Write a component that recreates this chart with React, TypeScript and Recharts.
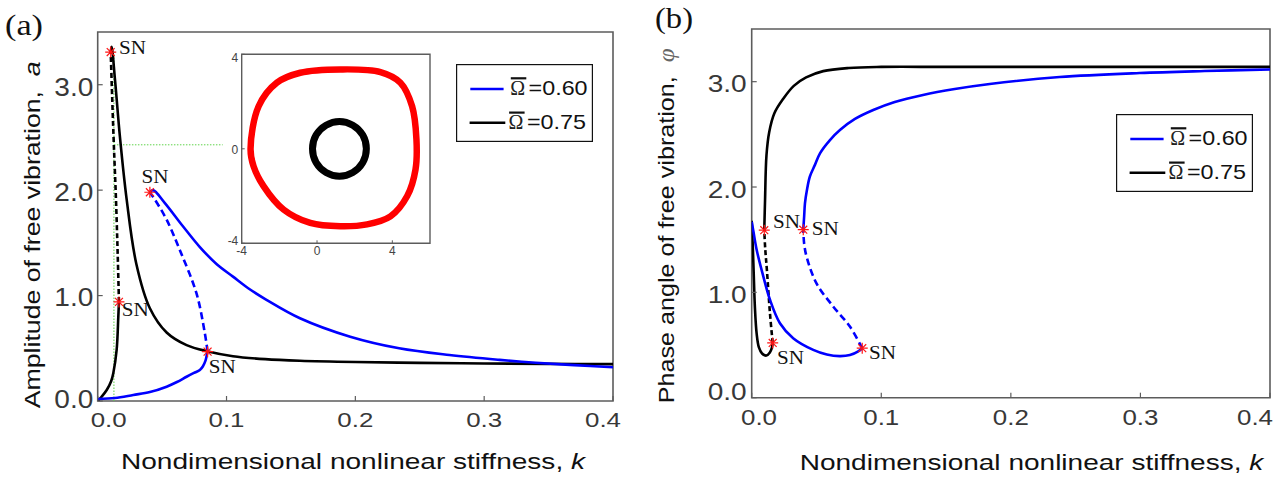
import React from 'react';
import { ComposedChart, Line, Scatter, XAxis, YAxis, ReferenceArea, ReferenceLine, Legend } from 'recharts';

type Pt = [number, number];

// ---------- shared ticks / labels ----------
const kTicks = [0, 0.1, 0.2, 0.3, 0.4];
const valueTicks = [0, 1, 2, 3];
const insetTicks = [-4, 0, 4];
const omegaLabels = ['0.60', '0.75'];

// ---------- panel (a): amplitude a vs k ----------
const aBlackLow: Pt[] = [[0, 0], [0.003, 0.04], [0.007, 0.104], [0.0105, 0.19], [0.0121, 0.263], [0.0147, 0.484], [0.016, 0.8], [0.0165, 0.94]];
const aBlackMid: Pt[] = [[0.0165, 0.94], [0.0155, 1.4], [0.0142, 1.91], [0.0125, 2.44], [0.0112, 2.89], [0.0101, 3.31]];
const aBlackUp: Pt[] = [[0.0101, 3.31], [0.0108, 3.36], [0.0134, 3.05], [0.0173, 2.5], [0.0225, 1.91], [0.03, 1.3], [0.0405, 0.88], [0.0535, 0.65], [0.069, 0.53], [0.0857, 0.47], [0.105, 0.425], [0.13, 0.397], [0.157, 0.382], [0.2, 0.37], [0.25, 0.362], [0.3, 0.356], [0.35, 0.352], [0.4, 0.35]];
const aBlueLow: Pt[] = [[0, 0.019], [0.0134, 0.028], [0.0276, 0.057], [0.0405, 0.085], [0.0535, 0.136], [0.0615, 0.18], [0.069, 0.23], [0.0747, 0.266], [0.0793, 0.294], [0.0816, 0.327], [0.0836, 0.38], [0.0847, 0.436], [0.0853, 0.468]];
const aBlueMid: Pt[] = [[0.0853, 0.468], [0.0832, 0.64], [0.0767, 1.02], [0.0638, 1.43], [0.0535, 1.72], [0.0444, 1.91], [0.0405, 1.98]];
const aBlueUp: Pt[] = [[0.0405, 1.98], [0.043, 2.0], [0.052, 1.88], [0.066, 1.66], [0.0793, 1.46], [0.0922, 1.3], [0.105, 1.18], [0.118, 1.06], [0.131, 0.96], [0.157, 0.785], [0.196, 0.61], [0.234, 0.5], [0.273, 0.436], [0.312, 0.39], [0.34, 0.363], [0.37, 0.34], [0.4, 0.32]];
const aSN: Pt[] = [[0.0101, 3.31], [0.0405, 1.98], [0.0165, 0.94], [0.0853, 0.468]];
const aGuideV: Pt[] = [[0.0126, 0], [0.0126, 3.31]];
const aGuideH: Pt[] = [[0.0126, 2.43], [0.097, 2.43]];

// ---------- inset: phase portrait (closed orbits) ----------
const redOrbit: Pt[] = [[-3.53, 0], [-3.37, -0.74], [-2.84, -1.58], [-1.78, -2.57], [-0.36, -3.14], [1.24, -3.28], [2.66, -3.2], [3.9, -2.86], [4.79, -2.0], [5.23, -0.88], [5.28, 0.4], [5.05, 1.8], [4.43, 2.8], [3.37, 3.25], [1.24, 3.36], [-0.89, 3.22], [-2.13, 2.8], [-3.1, 1.8]];
const blackOrbit: Pt[] = [[2.62, 0], [2.43, 0.58], [1.9, 1.0], [1.19, 1.16], [0.48, 1.0], [-0.05, 0.58], [-0.24, 0], [-0.05, -0.58], [0.48, -1.0], [1.19, -1.16], [1.9, -1.0], [2.43, -0.58]];

// ---------- panel (b): phase angle phi vs k ----------
const bBlackLow: Pt[] = [[0, 1.68], [0.0008, 1.45], [0.0015, 1.2], [0.0025, 0.85], [0.0038, 0.61], [0.0055, 0.48], [0.008, 0.42], [0.0113, 0.4], [0.014, 0.43], [0.0155, 0.47], [0.0162, 0.52]];
const bBlackMid: Pt[] = [[0.0162, 0.52], [0.0141, 0.8], [0.0118, 1.2], [0.0104, 1.42], [0.0097, 1.59]];
const bBlackUp: Pt[] = [[0.0097, 1.59], [0.0103, 1.875], [0.0114, 2.3], [0.0135, 2.52], [0.0175, 2.7], [0.0245, 2.84], [0.0325, 2.96], [0.042, 3.04], [0.0552, 3.1], [0.075, 3.13], [0.1, 3.14], [0.15, 3.14], [0.25, 3.14], [0.4, 3.14]];
const bBlueLow: Pt[] = [[0, 1.67], [0.0013, 1.58], [0.0039, 1.4], [0.009, 1.15], [0.0141, 0.93], [0.0218, 0.707], [0.032, 0.565], [0.0475, 0.454], [0.058, 0.41], [0.068, 0.395], [0.0758, 0.405], [0.0822, 0.44], [0.0853, 0.47]];
const bBlueMid: Pt[] = [[0.0853, 0.47], [0.0758, 0.675], [0.063, 0.864], [0.05, 1.085], [0.0424, 1.337], [0.0405, 1.46], [0.0398, 1.595]];
const bBlueUp: Pt[] = [[0.0398, 1.595], [0.0405, 1.725], [0.0411, 1.845], [0.0426, 1.97], [0.0449, 2.1], [0.0488, 2.21], [0.0527, 2.32], [0.0604, 2.446], [0.0681, 2.541], [0.0797, 2.646], [0.0938, 2.731], [0.1104, 2.807], [0.1322, 2.874], [0.1567, 2.93], [0.1837, 2.978], [0.2377, 3.044], [0.2994, 3.082], [0.3495, 3.101], [0.4, 3.116]];
const bSN: Pt[] = [[0.0097, 1.59], [0.0398, 1.595], [0.0162, 0.52], [0.0853, 0.47]];

// ---------- layout / style (not data) ----------
const snOffsetA: Pt[] = [[8.3, 2], [-8.3, -9.3], [2.7, 14], [1.3, 21]];
const snOffsetB: Pt[] = [[8.7, -2.2], [8.4, 4.9], [4.4, 21.3], [6.7, 10.4]];

const BLUE = '#0000ff';
const BLACK = '#000000';
const RED = '#ff1414';
const GREEN = '#5fd34a';
const FRAME = '#5c5c5c';
const TICK_TEXT = '#383838';
const SANS = '"Liberation Sans", Arial, Helvetica, sans-serif';
const SERIF = '"Liberation Serif", "Times New Roman", serif';

const pts = (arr: Pt[]) => arr.map(([x, y]) => ({ x, y }));

// ---------- interpolation curve factories (centripetal Catmull-Rom) ----------
const crControls = (p0: number[], p1: number[], p2: number[], p3: number[]) => {
  const l01 = Math.sqrt(Math.hypot(p1[0] - p0[0], p1[1] - p0[1]));
  const l12 = Math.sqrt(Math.hypot(p2[0] - p1[0], p2[1] - p1[1]));
  const l23 = Math.sqrt(Math.hypot(p3[0] - p2[0], p3[1] - p2[1]));
  let c1 = [p1[0], p1[1]];
  let c2 = [p2[0], p2[1]];
  if (l01 > 1e-9) {
    const a = 2 * l01 * l01 + 3 * l01 * l12 + l12 * l12;
    const n = 3 * l01 * (l01 + l12);
    c1 = [(p1[0] * a - p0[0] * l12 * l12 + p2[0] * l01 * l01) / n, (p1[1] * a - p0[1] * l12 * l12 + p2[1] * l01 * l01) / n];
  }
  if (l23 > 1e-9) {
    const b = 2 * l23 * l23 + 3 * l23 * l12 + l12 * l12;
    const m = 3 * l23 * (l23 + l12);
    c2 = [(p2[0] * b + p1[0] * l23 * l23 - p3[0] * l12 * l12) / m, (p2[1] * b + p1[1] * l23 * l23 - p3[1] * l12 * l12) / m];
  }
  return [c1, c2];
};

const makeCurve = (closed: boolean) => (context: any) => {
  let p: number[][] = [];
  return {
    areaStart() {},
    areaEnd() {},
    lineStart() { p = []; },
    point(x: number, y: number) { p.push([x, y]); },
    lineEnd() {
      const n = p.length;
      if (!n) return;
      context.moveTo(p[0][0], p[0][1]);
      const segs = closed ? n : n - 1;
      for (let i = 0; i < segs; i++) {
        const g = (j: number) => (closed ? p[(j + n) % n] : p[Math.min(Math.max(j, 0), n - 1)]);
        const p0 = g(i - 1);
        const p1 = g(i);
        const p2 = g(i + 1);
        const p3 = g(i + 2);
        const [c1, c2] = crControls(p0, p1, p2, p3);
        context.bezierCurveTo(c1[0], c1[1], c2[0], c2[1], p2[0], p2[1]);
      }
      if (closed) context.closePath();
    },
  };
};
const smoothOpen = makeCurve(false);
const smoothClosed = makeCurve(true);

const makeXTick = (firstShift: number, lastShift: number, base: number, size: number) => (props: any) => {
  const { x, y, payload } = props;
  const v = Number(payload.value);
  const shift = v === 0 ? firstShift : Math.abs(v - 0.4) < 1e-9 ? lastShift : 0;
  return (
    <text x={x + shift} y={y + base} textAnchor="middle" fontSize={size} fontFamily={SANS} fill={TICK_TEXT}
      textLength={36} lengthAdjust="spacingAndGlyphs">
      {v.toFixed(1)}
    </text>
  );
};

const makeYTick = (base: number, zeroBase: number, size: number) => (props: any) => {
  const { x, y, payload } = props;
  const v = Number(payload.value);
  return (
    <text x={x - 39} y={y + (v === 0 ? zeroBase : base)} textAnchor="start" fontSize={size} fontFamily={SANS} fill={TICK_TEXT}
      textLength={39} lengthAdjust="spacingAndGlyphs">
      {v.toFixed(1)}
    </text>
  );
};

const InsetXTick = (props: any) => {
  const { x, y, payload } = props;
  return (
    <text x={x} y={y + 11.7} textAnchor="middle" fontSize={12} fontFamily={SANS} fill="#444">
      {String(payload.value)}
    </text>
  );
};

const InsetYTick = (props: any) => {
  const { x, y, payload } = props;
  const v = Number(payload.value);
  const base = v > 0 ? 8 : v < 0 ? 1.7 : 4.7;
  return (
    <text x={x} y={y + base} textAnchor="end" fontSize={12} fontFamily={SANS} fill="#444">
      {String(v)}
    </text>
  );
};

const makeSN = (dx: number, dy: number) => (props: any) => {
  const { cx, cy } = props;
  if (cx == null || cy == null) return <g />;
  const r = 5.5;
  const d = r * 0.72;
  return (
    <g>
      <line x1={cx - r} y1={cy} x2={cx + r} y2={cy} stroke={RED} strokeWidth={1.2} />
      <line x1={cx} y1={cy - r} x2={cx} y2={cy + r} stroke={RED} strokeWidth={1.2} />
      <line x1={cx - d} y1={cy - d} x2={cx + d} y2={cy + d} stroke={RED} strokeWidth={1.2} />
      <line x1={cx - d} y1={cy + d} x2={cx + d} y2={cy - d} stroke={RED} strokeWidth={1.2} />
      <text x={cx + dx} y={cy + dy} fontFamily={SERIF} fontSize={19.5} fill="#111" textLength={27} lengthAdjust="spacingAndGlyphs">SN</text>
    </g>
  );
};

const legendRows = [
  { color: BLUE, label: omegaLabels[0], x1: 14.3, x2: 47.6, ly: 25, ox: 54.3, tx: 72.6, base: 31, bar: 14.3 },
  { color: BLACK, label: omegaLabels[1], x1: 13.6, x2: 49.3, ly: 58.7, ox: 52.6, tx: 71, base: 65.3, bar: 48.6 },
];

const LegendBox = () => (
  <svg width={137} height={78} style={{ display: 'block' }}>
    <rect x={0.6} y={0.6} width={135.8} height={76.8} fill="#fff" stroke="#111" strokeWidth={1.2} />
    {legendRows.map((r) => (
      <g key={r.label}>
        <line x1={r.x1} y1={r.ly} x2={r.x2} y2={r.ly} stroke={r.color} strokeWidth={2.6} />
        <line x1={r.ox + 0.5} y1={r.bar} x2={r.ox + 16} y2={r.bar} stroke="#111" strokeWidth={2.2} />
        <text x={r.ox} y={r.base} fontFamily={SERIF} fontSize={20} fill="#222">Ω</text>
        <text x={r.tx} y={r.base} fontFamily={SANS} fontSize={21} fill="#111" textLength={59} lengthAdjust="spacingAndGlyphs">={r.label}</text>
      </g>
    ))}
  </svg>
);

type Branch = { data: Pt[]; color: string; dashed: boolean };

const branchesA: Branch[] = [
  { data: aBlackLow, color: BLACK, dashed: false },
  { data: aBlackMid, color: BLACK, dashed: true },
  { data: aBlackUp, color: BLACK, dashed: false },
  { data: aBlueLow, color: BLUE, dashed: false },
  { data: aBlueMid, color: BLUE, dashed: true },
  { data: aBlueUp, color: BLUE, dashed: false },
];
const branchesB: Branch[] = [
  { data: bBlackLow, color: BLACK, dashed: false },
  { data: bBlackMid, color: BLACK, dashed: true },
  { data: bBlackUp, color: BLACK, dashed: false },
  { data: bBlueLow, color: BLUE, dashed: false },
  { data: bBlueMid, color: BLUE, dashed: true },
  { data: bBlueUp, color: BLUE, dashed: false },
];

const renderBranches = (list: Branch[], prefix: string) =>
  list.map((b, i) => (
    <Line key={prefix + i} data={pts(b.data)} dataKey="y" type={smoothOpen as any} stroke={b.color}
      strokeWidth={2.6} strokeDasharray={b.dashed ? (b.color === BLUE ? '7 4' : '5 3') : undefined}
      dot={false} activeDot={false} isAnimationActive={false} legendType="none" />
  ));

const renderSN = (list: Pt[], offsets: Pt[], prefix: string) =>
  list.map((p, i) => (
    <Scatter key={prefix + i} data={pts([p])} dataKey="y" shape={makeSN(offsets[i][0], offsets[i][1])}
      isAnimationActive={false} legendType="none" />
  ));

export default function App() {
  return (
    <div style={{ position: 'absolute', left: 0, top: 0, width: 1281, height: 483, background: '#fff', overflow: 'hidden' }}>
      {/* panel (a) */}
      <div style={{ position: 'absolute', left: 0, top: 0 }}>
        <ComposedChart width={640} height={483} margin={{ top: 32, right: 27, bottom: 0, left: 0 }}>
          <XAxis type="number" dataKey="x" domain={[0, 0.4]} ticks={kTicks} interval={0} allowDataOverflow
            height={82} axisLine={false} tickSize={-5} tickMargin={5} tickLine={{ stroke: FRAME, strokeWidth: 1.2 }}
            tick={makeXTick(11, -10, 25.7, 21)} />
          <YAxis type="number" dataKey="y" domain={[0, 3.5]} ticks={valueTicks} interval={0} allowDataOverflow
            width={97.7} axisLine={false} tickSize={-5} tickMargin={9.4} tickLine={{ stroke: FRAME, strokeWidth: 1.2 }}
            tick={makeYTick(10.8, 7, 26)} />
          <ReferenceArea x1={0} x2={0.4} y1={0} y2={3.5} fill="none" stroke={FRAME} strokeWidth={1.6} ifOverflow="visible" />
          <ReferenceLine segment={pts(aGuideV)} stroke={GREEN} strokeWidth={1} strokeDasharray="1.5 1.5" />
          <ReferenceLine segment={pts(aGuideH)} stroke={GREEN} strokeWidth={1} strokeDasharray="1.5 1.5" />
          {renderBranches(branchesA, 'a')}
          {renderSN(aSN, snOffsetA, 'sa')}
          <Legend layout="vertical" align="center" verticalAlign="middle" content={() => <LegendBox />}
            wrapperStyle={{ left: 455.7, top: 64, width: 137, height: 78 }} />
        </ComposedChart>
      </div>

      {/* inset */}
      <div style={{ position: 'absolute', left: 200, top: 30 }}>
        <ComposedChart width={240} height={245} margin={{ top: 24.3, right: 10, bottom: 0, left: 0 }}>
          <XAxis type="number" dataKey="x" domain={[-4, 6]} ticks={insetTicks} interval={0} allowDataOverflow
            height={31.7} axisLine={false} tickSize={-3} tickMargin={3} tickLine={{ stroke: FRAME }} tick={InsetXTick} />
          <YAxis type="number" dataKey="y" domain={[-4, 4]} ticks={insetTicks} interval={0} allowDataOverflow
            width={41.7} axisLine={false} tickSize={-3} tickMargin={6.4} tickLine={{ stroke: FRAME }} tick={InsetYTick} />
          <ReferenceArea x1={-4} x2={6} y1={-4} y2={4} fill="#fff" fillOpacity={1} stroke={FRAME} strokeWidth={1.4} ifOverflow="visible" />
          <Line data={pts(redOrbit)} dataKey="y" type={smoothClosed as any} stroke="#ff0000" strokeWidth={6.5} dot={false}
            activeDot={false} isAnimationActive={false} legendType="none" />
          <Line data={pts(blackOrbit)} dataKey="y" type={smoothClosed as any} stroke={BLACK} strokeWidth={7} dot={false}
            activeDot={false} isAnimationActive={false} legendType="none" />
        </ComposedChart>
      </div>

      {/* panel (b) */}
      <div style={{ position: 'absolute', left: 640, top: 0 }}>
        <ComposedChart width={641} height={483} margin={{ top: 29, right: 11, bottom: 0, left: 0 }}>
          <XAxis type="number" dataKey="x" domain={[0, 0.4]} ticks={kTicks} interval={0} allowDataOverflow
            height={85.3} axisLine={false} tickSize={-5} tickMargin={5} tickLine={{ stroke: FRAME, strokeWidth: 1.2 }}
            tick={makeXTick(7.3, -15, 27.3, 22)} />
          <YAxis type="number" dataKey="y" domain={[0, 3.5]} ticks={valueTicks} interval={0} allowDataOverflow
            width={111.7} axisLine={false} tickSize={-5} tickMargin={10} tickLine={{ stroke: FRAME, strokeWidth: 1.2 }}
            tick={makeYTick(10.7, 2.3, 23.5)} />
          <ReferenceArea x1={0} x2={0.4} y1={0} y2={3.5} fill="none" stroke={FRAME} strokeWidth={1.6} ifOverflow="visible" />
          {renderBranches(branchesB, 'b')}
          {renderSN(bSN, snOffsetB, 'sb')}
          <Legend layout="vertical" align="center" verticalAlign="middle" content={() => <LegendBox />}
            wrapperStyle={{ left: 475.7, top: 114, width: 137, height: 78 }} />
        </ComposedChart>
      </div>

      {/* titles */}
      <svg width={1281} height={483} style={{ position: 'absolute', left: 0, top: 0, pointerEvents: 'none' }}>
        <text x={5} y={35} fontFamily={SERIF} fontSize={30} fill="#111" textLength={38} lengthAdjust="spacingAndGlyphs">(a)</text>
        <text x={655} y={27.5} fontFamily={SERIF} fontSize={30} fill="#111" textLength={38} lengthAdjust="spacingAndGlyphs">(b)</text>
        <text x={121} y={469.3} fontFamily={SANS} fontSize={22.5} fill="#111" textLength={464} lengthAdjust="spacingAndGlyphs">
          Nondimensional nonlinear stiffness, <tspan fontStyle="italic">k</tspan>
        </text>
        <text x={799.7} y={469.5} fontFamily={SANS} fontSize={22.5} fill="#111" textLength={463.6} lengthAdjust="spacingAndGlyphs">
          Nondimensional nonlinear stiffness, <tspan fontStyle="italic">k</tspan>
        </text>
        <text transform="translate(39.5,408.3) rotate(-90)" fontFamily={SANS} fontSize={22.5} fill="#111" textLength={347} lengthAdjust="spacingAndGlyphs">
          {'Amplitude of free vibration,\u00a0 '}<tspan fontStyle="italic">a</tspan>
        </text>
        <text transform="translate(674,403.3) rotate(-90)" fontFamily={SANS} fontSize={22.5} fill="#111" textLength={355} lengthAdjust="spacingAndGlyphs">
          {'Phase angle of free vibration,\u00a0 '}<tspan fontStyle="italic" fontFamily={SERIF} fill="#666">φ</tspan>
        </text>
      </svg>
    </div>
  );
}
